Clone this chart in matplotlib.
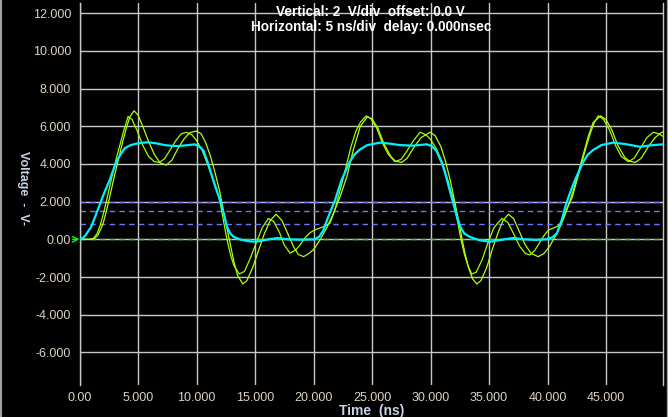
import matplotlib
matplotlib.use("Agg")
import matplotlib.pyplot as plt
from matplotlib.lines import Line2D

plt.rcParams['font.family'] = ['Liberation Sans', 'DejaVu Sans']

# ---- data ----
cyan_t = [0, 0.15, 0.5, 1.0, 1.4, 1.87, 2.2, 2.58, 2.9, 3.15, 3.5, 3.86, 4.3, 4.72, 5.3, 5.85, 6.5, 7.28, 7.9,
          8.42, 9.0, 9.85, 10.3, 10.6, 11.0, 11.3, 11.6, 12.07, 12.4, 12.6, 12.9, 13.2, 13.8, 14.5, 15.1, 16.0,
          16.9, 17.8, 18.9, 20.1, 20.5, 20.85, 21.2, 21.84, 22.4, 23.1, 23.5, 23.97, 24.6, 25.68, 26.5, 27.4,
          28.5, 29.67, 30.1, 30.5, 31.0, 31.3, 31.6, 31.95, 32.3, 32.6, 32.9, 33.4, 34.2, 35.1, 36.0, 37.1, 38.0,
          39.0, 39.9, 40.4, 40.8, 41.2, 41.6, 42.0, 42.35, 43.06, 43.45, 43.9, 44.6, 45.6, 46.7, 47.9, 49.0, 49.9]
cyan_v = [0, 0, 0.2, 0.67, 1.3, 2.08, 2.6, 3.15, 3.7, 4.12, 4.5, 4.83, 4.98, 5.06, 5.12, 5.15, 5.1, 5.0, 4.96,
          4.95, 4.98, 5.04, 4.9, 4.7, 4.0, 3.4, 2.8, 2.0, 1.2, 0.67, 0.3, 0.12, -0.02, -0.1, -0.13, -0.02,
          0.07, 0.0, -0.02, 0.0, 0.15, 0.49, 1.1, 2.08, 3.15, 4.12, 4.5, 4.77, 5.0, 5.13, 5.08, 5.0,
          4.97, 5.04, 4.95, 4.7, 4.0, 3.4, 2.7, 1.9, 1.1, 0.6, 0.3, 0.12, -0.05, -0.13, -0.03, 0.07, 0.0,
          -0.03, 0.0, 0.1, 0.32, 1.0, 1.9, 2.6, 3.15, 4.12, 4.5, 4.74, 5.0, 5.13, 5.05, 4.91, 5.0, 5.04]

greenA_t = [0, 0.9, 1.2, 1.5, 1.8, 2.1, 2.4, 2.8, 3.15, 3.45, 3.75, 4.15, 4.5, 4.9, 5.4, 5.9, 6.4, 6.85, 7.3,
            7.8, 8.3, 8.7, 9.13, 9.6, 10.0, 10.5, 11.0, 11.4, 11.7, 12.0, 12.3, 12.6, 12.9, 13.2, 13.66, 14.1,
            14.6, 15.1, 15.6, 16.14, 16.6, 17.1, 17.5, 18.0, 18.5, 18.85, 19.3, 19.7, 20.1, 20.55, 21.0, 21.4,
            21.8, 22.1, 22.4, 22.8, 23.2, 23.6, 24.0, 24.5, 24.9, 25.4, 25.9, 26.4, 26.97, 27.5, 28.0, 28.5,
            29.1, 29.6, 30.0, 30.5, 31.0, 31.5, 32.0, 32.3, 32.6, 32.9, 33.2, 33.52, 33.9, 34.4, 34.9, 35.4,
            36.1, 36.6, 37.1, 37.6, 38.1, 38.5, 38.9, 39.3, 39.7, 40.1, 40.5, 40.9, 41.3, 41.7, 42.1, 42.5,
            42.9, 43.3, 43.7, 44.0, 44.34, 44.8, 45.3, 45.8, 46.3, 46.9, 47.4, 47.9, 48.5, 49.04, 49.5, 49.9]
greenA_v = [0, 0, 0.05, 0.3, 0.8, 1.5, 2.3, 3.4, 4.3, 5.0, 5.7, 6.52, 6.35, 5.8, 5.0, 4.4, 4.12, 4.08, 4.3,
            4.8, 5.3, 5.6, 5.68, 5.55, 5.25, 4.7, 3.9, 3.2, 2.7, 2.0, 1.0, 0.0, -0.8, -1.4, -1.84, -1.7,
            -1.0, -0.2, 0.6, 1.11, 0.95, 0.35, -0.3, -0.74, -0.55, -0.3, 0.1, 0.35, 0.5, 0.6, 0.7, 0.85,
            1.5, 2.2, 2.9, 3.9, 4.9, 5.7, 6.2, 6.55, 6.4, 5.9, 5.1, 4.5, 4.12, 4.25, 4.7, 5.2,
            5.68, 5.55, 5.3, 4.8, 4.1, 3.1, 2.0, 1.0, 0.0, -0.8, -1.4, -1.84, -1.75, -1.1, -0.2, 0.6,
            1.11, 0.9, 0.3, -0.35, -0.75, -0.83, -0.6, -0.2, 0.2, 0.5, 0.6, 0.7, 1.0, 1.7, 2.2, 3.1,
            4.0, 4.9, 5.7, 6.2, 6.56, 6.35, 5.8, 5.0, 4.4, 4.12, 4.3, 4.8, 5.4, 5.68, 5.6, 5.45]

greenB_t = [0, 1.0, 1.3, 1.6, 2.0, 2.3, 2.6, 3.0, 3.35, 3.7, 4.0, 4.3, 4.66, 5.0, 5.4, 5.9, 6.4, 6.9, 7.42,
            7.9, 8.4, 8.9, 9.4, 9.98, 10.4, 10.8, 11.2, 11.6, 12.0, 12.3, 12.6, 12.9, 13.2, 13.5, 13.95, 14.3,
            14.8, 15.3, 15.8, 16.3, 16.8, 17.3, 17.8, 18.3, 18.7, 19.15, 19.6, 20.0, 20.55, 21.1, 21.7, 22.27,
            22.85, 23.4, 24.0, 24.6, 25.0, 25.5, 26.0, 26.6, 27.0, 27.54, 28.0, 28.6, 29.2, 29.96, 30.4, 30.9,
            31.3, 31.7, 32.1, 32.4, 32.7, 33.0, 33.3, 33.6, 33.95, 34.3, 34.8, 35.3, 35.8, 36.2, 36.65, 37.1,
            37.6, 38.1, 38.6, 39.2, 39.7, 40.2, 40.7, 41.1, 41.5, 41.9, 42.3, 42.7, 43.1, 43.5, 43.9, 44.55,
            45.0, 45.5, 46.0, 46.6, 47.0, 47.5, 48.0, 48.6, 49.2, 49.76, 49.9]
greenB_v = [0, 0, 0.05, 0.25, 0.8, 1.5, 2.3, 3.4, 4.3, 5.2, 5.9, 6.5, 6.82, 6.6, 6.0, 5.2, 4.5, 4.05, 3.94,
            4.2, 4.8, 5.3, 5.65, 5.75, 5.6, 5.1, 4.4, 3.5, 2.5, 1.5, 0.6, -0.3, -1.2, -1.9, -2.37, -2.2,
            -1.5, -0.6, 0.3, 1.0, 1.33, 1.0, 0.3, -0.4, -0.8, -0.92, -0.75, -0.55, -0.04, 0.58, 1.37, 2.26,
            3.32, 4.74, 6.0, 6.5, 6.4, 5.9, 5.1, 4.4, 4.15, 4.08, 4.3, 4.9, 5.4, 5.68, 5.5, 4.9,
            4.1, 3.1, 1.9, 1.0, 0.0, -0.9, -1.6, -2.1, -2.37, -2.2, -1.5, -0.5, 0.4, 1.0, 1.33, 1.1,
            0.4, -0.3, -0.75, -0.92, -0.75, -0.35, 0.2, 0.7, 1.3, 2.0, 2.8, 3.7, 4.6, 5.5, 6.2, 6.55,
            6.35, 5.8, 5.0, 4.35, 4.15, 4.08, 4.3, 4.9, 5.4, 5.68, 5.68]

ref_levels = [2.0, 1.5, 0.8]
x_ticks = [0, 5, 10, 15, 20, 25, 30, 35, 40, 45]
x_labels = ['0.00', '5.000', '10.000', '15.000', '20.000', '25.000', '30.000', '35.000', '40.000', '45.000']
y_ticks = [-6, -4, -2, 0, 2, 4, 6, 8, 10, 12]
y_labels = ['-6.000', '-4.000', '-2.000', '0.00', '2.000', '4.000', '6.000', '8.000', '10.000', '12.000']

# ---- figure ----
W, H = 668, 417
fig = plt.figure(figsize=(W / 100, H / 100), dpi=100, facecolor='black')
ax = fig.add_axes([79.5 / W, 1 - 385 / H, (663 - 79.5) / W, (385 - 3) / H], facecolor='black')
ax.set_xlim(0, 49.87)
ax.set_ylim(-7.73, 12.54)

grid_col = '#c8c8c8'
for xt in x_ticks:
    ax.axvline(xt, color=grid_col, lw=1.0, zorder=1)
for yt in y_ticks:
    ax.axhline(yt, color=grid_col, lw=1.0, zorder=1)

for lv in ref_levels:
    ax.axhline(lv, color='#7373ff', lw=1.0, dashes=(4, 3), zorder=2)
ax.axhline(0, color='#22dd22', lw=1.0, dashes=(4, 3), zorder=2)

ax.plot(greenA_t, greenA_v, color='#9cff00', lw=0.9, zorder=3)
ax.plot(greenB_t, greenB_v, color='#b0ff10', lw=0.9, zorder=3)
ax.plot(cyan_t, cyan_v, color='#00f0ff', lw=1.6, zorder=4)

ax.annotate('', xy=(0, 0), xytext=(-0.6, 0),
            arrowprops=dict(arrowstyle='->', color='#00ff00', lw=1.0, shrinkA=0, shrinkB=0),
            annotation_clip=False)

for side in ['top', 'bottom']:
    ax.spines[side].set_visible(False)
for side in ['left', 'right']:
    ax.spines[side].set_color(grid_col)
    ax.spines[side].set_linewidth(1.0)

tick_col = '#dcd2c0'
ax.set_xticks(x_ticks)
ax.set_xticklabels(x_labels)
ax.set_yticks(y_ticks)
ax.set_yticklabels(y_labels)
ax.tick_params(axis='both', length=0, colors=tick_col, labelsize=9)
ax.tick_params(axis='x', pad=5)
ax.tick_params(axis='y', pad=6)

ax.set_xlabel('Time  (ns)', color='#c8d2e6', fontsize=10, fontweight='bold', labelpad=0)
fig.text(23 / W, 1 - 188 / H, 'Voltage  -  V-', rotation=270, color='#c8d2e6', fontsize=9,
         fontweight='bold', ha='center', va='center')

fig.text(370 / W, 1 - 12 / H, 'Vertical: 2  V/div  offset: 0.0 V', color='white', fontsize=9.8,
         fontweight='bold', ha='center', va='center')
fig.text(371 / W, 1 - 27 / H, 'Horizontal: 5 ns/div  delay: 0.000nsec', color='white', fontsize=9.8,
         fontweight='bold', ha='center', va='center')

# thin gray frame edges of the window
fig.add_artist(Line2D([0.5 / W, 0.5 / W], [0, 1], color='#a0a0a0', lw=1.5, transform=fig.transFigure))
fig.add_artist(Line2D([1 - 1.0 / W, 1 - 1.0 / W], [0, 1], color='#a0a0a0', lw=1.0, transform=fig.transFigure))

fig.savefig('out.png', dpi=100, facecolor='black')
